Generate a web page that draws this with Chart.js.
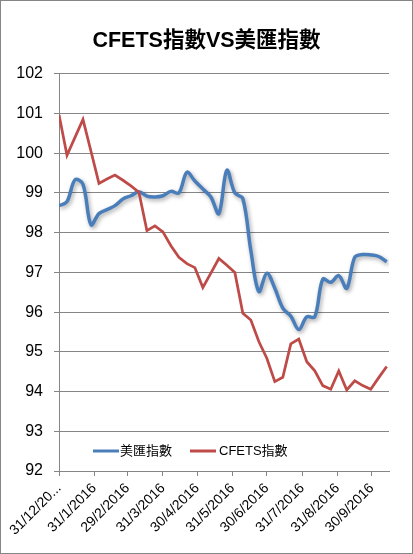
<!DOCTYPE html>
<html>
<head>
<meta charset="utf-8">
<script src="https://cdn.jsdelivr.net/npm/chart.js@4.4.0/dist/chart.umd.min.js"></script>
<style>
  html, body { margin: 0; padding: 0; background: #fff; }
</style>
</head>
<body>
<canvas id="chart" width="413" height="554"></canvas>
<script>
// weekly observations
const weekDates = [
  '2015-12-31', '2016-01-07', '2016-01-14', '2016-01-21', '2016-01-28',
  '2016-02-04', '2016-02-11', '2016-02-18', '2016-02-25', '2016-03-03',
  '2016-03-10', '2016-03-17', '2016-03-24', '2016-03-31', '2016-04-07',
  '2016-04-14', '2016-04-21', '2016-04-28', '2016-05-05', '2016-05-12',
  '2016-05-19', '2016-05-26', '2016-06-02', '2016-06-09', '2016-06-16',
  '2016-06-23', '2016-06-30', '2016-07-07', '2016-07-14', '2016-07-21',
  '2016-07-28', '2016-08-04', '2016-08-11', '2016-08-18', '2016-08-25',
  '2016-09-01', '2016-09-08', '2016-09-15', '2016-09-22', '2016-09-29',
  '2016-10-06', '2016-10-13'
];
const usdIndex = [
  98.68, 98.78, 99.33, 99.22, 98.20, 98.48, 98.58, 98.68, 98.85, 98.93,
  99.03, 98.92, 98.90, 98.93, 99.04, 99.00, 99.52, 99.30, 99.10, 98.90,
  98.48, 99.57, 99.00, 98.86, 97.55, 96.52, 96.98, 96.60, 96.10, 95.90,
  95.56, 95.88, 95.88, 96.83, 96.75, 96.92, 96.60, 97.38, 97.45, 97.44,
  97.40, 97.27
];
const cfetsIndex = [
  100.97, 99.95, 100.40, 100.85, 100.05, 99.24, 99.35, 99.45, 99.32, 99.18,
  99.02, 98.05, 98.17, 98.02, 97.67, 97.38, 97.22, 97.12, 96.62, 96.98,
  97.35, 97.18, 97.00, 95.97, 95.80, 95.26, 94.84, 94.25, 94.36, 95.20,
  95.32, 94.75, 94.52, 94.15, 94.06, 94.52, 94.04, 94.27, 94.15, 94.06,
  94.35, 94.63
];
const tickDates = [
  '2015-12-31', '2016-01-31', '2016-02-29', '2016-03-31', '2016-04-30',
  '2016-05-31', '2016-06-30', '2016-07-31', '2016-08-31', '2016-09-30'
];
const tickLabels = [
  '31/12/20...', '31/1/2016', '29/2/2016', '31/3/2016', '30/4/2016',
  '31/5/2016', '30/6/2016', '31/7/2016', '31/8/2016', '30/9/2016'
];
const seriesNames = ['美匯指數', 'CFETS指數'];
const seriesColors = ['#4A7EBB', '#BE4B48'];

const FONT = "'Liberation Sans', 'Noto Sans CJK TC', sans-serif";
const dayOf = s => (Date.parse(s) - Date.parse(tickDates[0])) / 86400000;
const toPoints = vals => vals.map((v, i) => ({ x: dayOf(weekDates[i]), y: v }));

// white background + grey frame
const framePlugin = {
  id: 'frame',
  beforeDraw(chart) {
    const ctx = chart.ctx;
    ctx.save();
    ctx.fillStyle = '#fff';
    ctx.fillRect(0, 0, chart.width, chart.height);
    ctx.strokeStyle = '#868686';
    ctx.lineWidth = 1;
    ctx.strokeRect(0.5, 0.5, chart.width - 1, chart.height - 1);
    ctx.restore();
  }
};

// soft shadow under the blue line
const shadowPlugin = {
  id: 'lineShadow',
  beforeDatasetDraw(chart, args) {
    if (args.index !== 0) return;
    const ctx = chart.ctx;
    ctx.save();
    ctx.shadowColor = 'rgba(0,0,0,0.35)';
    ctx.shadowBlur = 4;
    ctx.shadowOffsetX = 1.5;
    ctx.shadowOffsetY = 2;
  },
  afterDatasetDraw(chart, args) {
    if (args.index !== 0) return;
    chart.ctx.restore();
  }
};

// legend sitting inside the plot, near the bottom
const insideLegend = {
  id: 'insideLegend',
  afterDraw(chart) {
    const ctx = chart.ctx;
    const y = 451;
    const items = [{ x: 93, tx: 120 }, { x: 190, tx: 219 }];
    ctx.save();
    ctx.font = '13px ' + FONT;
    ctx.textBaseline = 'middle';
    ctx.fillStyle = '#000';
    chart.data.datasets.forEach((ds, i) => {
      ctx.strokeStyle = ds.borderColor;
      ctx.lineWidth = 3;
      ctx.beginPath();
      ctx.moveTo(items[i].x, y);
      ctx.lineTo(items[i].x + 26, y);
      ctx.stroke();
      ctx.fillText(ds.label, items[i].tx, y);
    });
    ctx.restore();
  }
};

new Chart(document.getElementById('chart'), {
  type: 'line',
  data: {
    datasets: [
      {
        label: seriesNames[0],
        data: toPoints(usdIndex),
        borderColor: seriesColors[0],
        backgroundColor: seriesColors[0],
        borderWidth: 3.5,
        pointRadius: 0,
        tension: 0.35,
        order: 1
      },
      {
        label: seriesNames[1],
        data: toPoints(cfetsIndex),
        borderColor: seriesColors[1],
        backgroundColor: seriesColors[1],
        borderWidth: 2.75,
        pointRadius: 0,
        tension: 0,
        order: 0
      }
    ]
  },
  options: {
    responsive: false,
    animation: false,
    layout: { padding: 0 },
    plugins: {
      legend: { display: false },
      tooltip: { enabled: false },
      title: {
        display: true,
        text: 'CFETS指數VS美匯指數',
        color: '#000',
        font: { family: FONT, size: 21.5, weight: 'bold' },
        padding: { top: 28, bottom: 20 }
      }
    },
    scales: {
      x: {
        type: 'linear',
        min: 0,
        max: 289,
        afterBuildTicks: s => {
          s.ticks = tickDates.map(d => ({ value: dayOf(d) }));
        },
        afterFit: s => {
          s.height = 83;
          s.paddingLeft = 0;
          s.paddingRight = 24;
        },
        ticks: {
          autoSkip: false,
          minRotation: 45,
          maxRotation: 45,
          color: '#000',
          padding: 4,
          font: { family: FONT, size: 14 },
          callback: (v, i) => tickLabels[i]
        },
        grid: { drawOnChartArea: false, drawTicks: true, tickLength: 5, color: '#868686' },
        border: { color: '#868686' }
      },
      y: {
        min: 92,
        max: 102,
        afterFit: s => { s.width = 59; },
        ticks: {
          stepSize: 1,
          color: '#000',
          padding: 11,
          font: { family: FONT, size: 16 }
        },
        grid: { color: '#868686', tickLength: 5 },
        border: { color: '#868686' }
      }
    }
  },
  plugins: [framePlugin, shadowPlugin, insideLegend]
});
</script>
</body>
</html>
